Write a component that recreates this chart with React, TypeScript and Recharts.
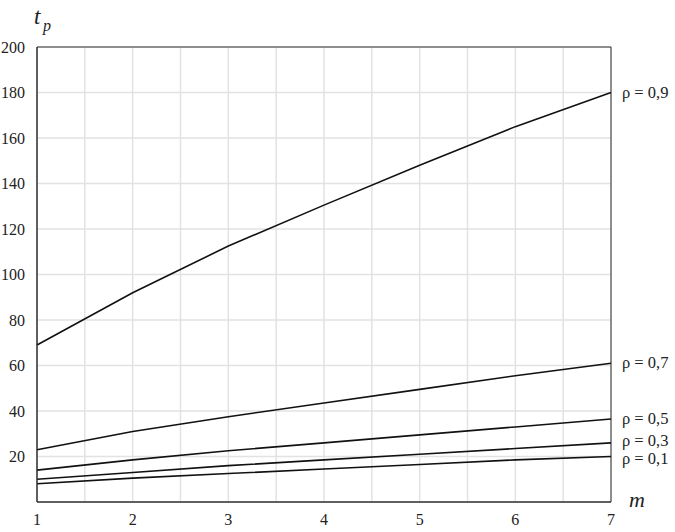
import { LineChart, Line, XAxis, YAxis, CartesianGrid, ReferenceArea } from "recharts";

// m values along the x axis
const mValues = [1, 2, 3, 4, 5, 6, 7];

// t_p for each load factor rho
const rho09 = [69, 92, 112.5, 130.5, 148, 165, 180];
const rho07 = [23, 31, 37.5, 43.5, 49.5, 55.5, 61];
const rho05 = [14, 18.5, 22.5, 26, 29.5, 33, 36.5];
const rho03 = [10, 13, 16, 18.5, 21, 23.5, 26];
const rho01 = [8, 10.5, 12.5, 14.5, 16.5, 18.5, 20];

const xTicks = [1, 1.5, 2, 2.5, 3, 3.5, 4, 4.5, 5, 5.5, 6, 6.5, 7];
const yTicks = [0, 20, 40, 60, 80, 100, 120, 140, 160, 180, 200];

const series = [
  { key: "r09", label: "ρ = 0,9", values: rho09, shift: 0 },
  { key: "r07", label: "ρ = 0,7", values: rho07, shift: 0 },
  { key: "r05", label: "ρ = 0,5", values: rho05, shift: 0 },
  { key: "r03", label: "ρ = 0,3", values: rho03, shift: -2 },
  { key: "r01", label: "ρ = 0,1", values: rho01, shift: 2 },
];

const data = mValues.map((m, i) => {
  const row: Record<string, number> = { m };
  series.forEach((s) => {
    row[s.key] = s.values[i];
  });
  return row;
});

const FONT = "'Liberation Serif', 'DejaVu Serif', serif";

function endLabel(text: string, shift: number) {
  return (props: any) => {
    const { x, y, index } = props;
    if (index !== mValues.length - 1) return null;
    return (
      <text x={x + 11} y={y + shift} dy={5} fontFamily={FONT} fontSize={16.5} fill="#222">
        {text}
      </text>
    );
  };
}

export default function App() {
  return (
    <div style={{ position: "absolute", left: 0, top: 0, width: 675, height: 532, background: "#fff" }}>
      <LineChart
        width={675}
        height={532}
        data={data}
        margin={{ top: 47, right: 64, left: 0, bottom: 0 }}
      >
        <CartesianGrid stroke="#e2e2e2" strokeWidth={1.5} />
        <XAxis
          dataKey="m"
          type="number"
          domain={[1, 7]}
          ticks={xTicks}
          interval={0}
          height={30}
          tickLine={false}
          axisLine={{ stroke: "#333" }}
          tickFormatter={(v: number) => (Number.isInteger(v) ? String(v) : "")}
          tick={{ fontFamily: FONT, fontSize: 16, fill: "#222" }}
          tickMargin={6}
        />
        <YAxis
          type="number"
          domain={[0, 200]}
          ticks={yTicks}
          interval={0}
          width={37}
          tickLine={false}
          axisLine={{ stroke: "#333" }}
          tickFormatter={(v: number) => (v === 0 ? "" : String(v))}
          tick={{ fontFamily: FONT, fontSize: 16, fill: "#222" }}
          tickMargin={6}
        />
        <ReferenceArea x1={1} x2={7} y1={0} y2={200} fill="none" stroke="#333" strokeWidth={1} />
        {series.map((s) => (
          <Line
            key={s.key}
            dataKey={s.key}
            stroke="#111"
            strokeWidth={1.6}
            dot={false}
            type="linear"
            isAnimationActive={false}
            label={endLabel(s.label, s.shift)}
          />
        ))}
      </LineChart>
      <svg
        width={675}
        height={532}
        style={{ position: "absolute", left: 0, top: 0, pointerEvents: "none" }}
      >
        <text x={34} y={24} fontFamily={FONT} fontStyle="italic" fontSize={23} fill="#222">
          t
        </text>
        <text x={43} y={31} fontFamily={FONT} fontStyle="italic" fontSize={16} fill="#222">
          p
        </text>
        <text x={629} y={507} fontFamily={FONT} fontStyle="italic" fontSize={22} fill="#222">
          m
        </text>
      </svg>
    </div>
  );
}
